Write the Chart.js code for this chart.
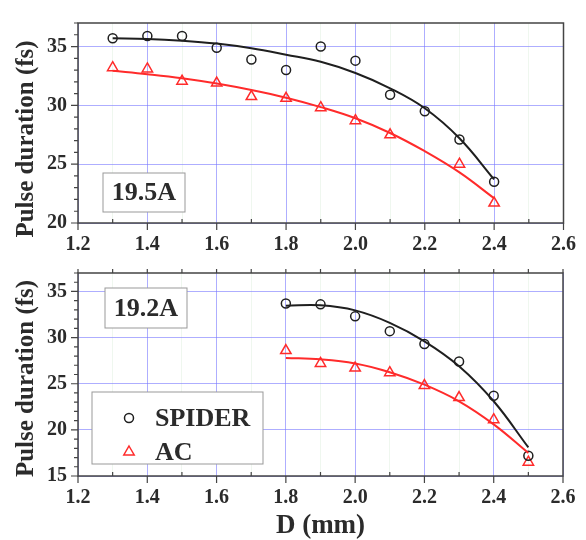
<!DOCTYPE html>
<html>
<head>
<meta charset="utf-8">
<script src="https://cdn.jsdelivr.net/npm/chart.js@4"></script>
<style>
  body { margin: 0; background: #fff; width: 586px; height: 540px; position: relative; overflow: hidden; }
  canvas { position: absolute; left: 0; }
</style>
</head>
<body>
<canvas id="topChart" width="586" height="260" style="top:0"></canvas>
<canvas id="bottomChart" width="586" height="290" style="top:250px"></canvas>
<script>
const fontFamily = "'Liberation Serif', 'Times New Roman', serif";
const textColor = '#2b2b2b';
const spiderColor = '#1f1f1f';
const acColor = '#ff2b2b';
const yTitle = 'Pulse duration (fs)';

// upper panel, 19.5A
const dTop = [1.3, 1.4, 1.5, 1.6, 1.7, 1.8, 1.9, 2.0, 2.1, 2.2, 2.3, 2.4];
const spiderTop = [35.7, 35.9, 35.9, 34.9, 33.9, 33.0, 35.0, 33.8, 30.9, 29.5, 27.1, 23.5];
const acTop = [33.2, 33.1, 32.05, 31.9, 30.75, 30.6, 29.8, 28.7, 27.5, null, 25.0, 21.7];
const fitSpiderTop = [35.7, 35.65, 35.5, 35.25, 34.85, 34.3, 33.7, 32.75, 31.45, 29.75, 27.2, 23.7];
const fitAcTop = [32.95, 32.65, 32.3, 31.85, 31.3, 30.65, 29.85, 28.9, 27.65, 26.1, 24.3, 22.1];

// lower panel, 19.2A
const dBottom = [1.8, 1.9, 2.0, 2.1, 2.2, 2.3, 2.4, 2.5];
const spiderBottom = [33.7, 33.6, 32.3, 30.7, 29.3, 27.4, 23.7, 17.2];
const acBottom = [28.6, 27.2, 26.7, 26.2, 24.8, 23.5, 21.1, 16.5];
const fitSpiderBottom = [33.45, 33.5, 32.95, 31.6, 29.6, 26.9, 23.1, 18.1];
const fitAcBottom = [27.8, 27.65, 27.2, 26.25, 24.9, 23.1, 20.6, 17.5];

const xRange = [1.2, 2.6];
const yRangeTop = [20, 37];
const yRangeBottom = [15, 37];

const pts = (xs, ys) => xs.map((x, i) => ({ x: x, y: ys[i] })).filter(p => p.y !== null);
const isMajorX = v => Math.round(v * 10) % 2 === 0;
const isMajorY = v => Math.round(v) % 5 === 0;

function makeDatasets(d, spider, ac, fitSpider, fitAc) {
    return [
        { label: 'SPIDER fit', data: pts(d, fitSpider), showLine: true, borderColor: spiderColor, borderWidth: 2, pointRadius: 0, tension: 0.4 },
        { label: 'AC fit', data: pts(d, fitAc), showLine: true, borderColor: acColor, borderWidth: 2, pointRadius: 0, tension: 0.4 },
        { label: 'SPIDER', data: pts(d, spider), pointStyle: 'circle', pointRadius: 4.5, borderColor: spiderColor, backgroundColor: 'transparent', pointBorderWidth: 1.5 },
        { label: 'AC', data: pts(d, ac), pointStyle: 'triangle', pointRadius: 6, borderColor: acColor, backgroundColor: 'transparent', pointBorderWidth: 1.5 }
    ];
}

// frame, tick marks, y title, label box and legend box
const decoPlugin = {
    id: 'deco',
    afterDraw(chart, args, opts) {
        const { ctx, chartArea: a, scales: { x, y } } = chart;
        ctx.save();
        ctx.strokeStyle = '#444';
        ctx.lineWidth = 1.5;
        ctx.strokeRect(a.left, a.top, a.right - a.left, a.bottom - a.top);

        ctx.lineWidth = 1.2;
        ctx.beginPath();
        x.ticks.forEach(t => {
            const px = x.getPixelForValue(t.value);
            if (isMajorX(t.value)) {
                ctx.moveTo(px, a.bottom); ctx.lineTo(px, a.bottom + 7);
            } else {
                ctx.moveTo(px, a.bottom); ctx.lineTo(px, a.bottom - 4);
            }
            if (opts.topTicks) {
                ctx.moveTo(px, a.top); ctx.lineTo(px, a.top - 4);
            }
        });
        y.ticks.forEach(t => {
            const py = y.getPixelForValue(t.value);
            const len = isMajorY(t.value) ? 7 : 4;
            ctx.moveTo(a.left, py); ctx.lineTo(a.left - len, py);
        });
        ctx.stroke();

        // rotated y title, a bit below the plot centre like the original
        ctx.save();
        ctx.translate(27, (a.top + a.bottom) / 2 + opts.titleShift);
        ctx.rotate(-Math.PI / 2);
        ctx.fillStyle = textColor;
        ctx.font = 'bold 25px ' + fontFamily;
        ctx.textAlign = 'center';
        ctx.textBaseline = 'middle';
        ctx.fillText(yTitle, 0, 0);
        ctx.restore();

        // current label box
        const b = opts.box;
        ctx.fillStyle = '#fff';
        ctx.fillRect(b.left, b.top, b.width, b.height);
        ctx.strokeStyle = '#999';
        ctx.lineWidth = 1;
        ctx.strokeRect(b.left, b.top, b.width, b.height);
        ctx.fillStyle = textColor;
        ctx.font = 'bold 26px ' + fontFamily;
        ctx.textAlign = 'center';
        ctx.textBaseline = 'middle';
        ctx.fillText(b.text, b.left + b.width / 2, b.top + b.height / 2 + 1);

        // legend
        const lg = opts.legend;
        if (lg) {
            ctx.fillStyle = '#fff';
            ctx.fillRect(lg.left, lg.top, lg.width, lg.height);
            ctx.strokeStyle = '#999';
            ctx.lineWidth = 1;
            ctx.strokeRect(lg.left, lg.top, lg.width, lg.height);
            const items = [chart.data.datasets[2], chart.data.datasets[3]];
            items.forEach((ds, i) => {
                const cy = lg.top + lg.rowY[i];
                ctx.strokeStyle = ds.borderColor;
                ctx.lineWidth = 1.5;
                ctx.beginPath();
                if (ds.pointStyle === 'circle') {
                    ctx.arc(lg.markerX, cy, ds.pointRadius, 0, Math.PI * 2);
                } else {
                    const r = ds.pointRadius;
                    ctx.moveTo(lg.markerX, cy - r);
                    ctx.lineTo(lg.markerX + r * 0.866, cy + r * 0.5);
                    ctx.lineTo(lg.markerX - r * 0.866, cy + r * 0.5);
                    ctx.closePath();
                }
                ctx.stroke();
                ctx.fillStyle = textColor;
                ctx.font = 'bold 26px ' + fontFamily;
                ctx.textAlign = 'left';
                ctx.textBaseline = 'middle';
                ctx.fillText(ds.label, lg.textX, cy + 1);
            });
        }
        ctx.restore();
    }
};

function makeOptions(yRange, xAxisHeight, showXTitle, padTop, padRight, deco) {
    return {
        responsive: false,
        animation: false,
        layout: { padding: { top: padTop, right: padRight, left: 0, bottom: 0 } },
        plugins: { legend: { display: false }, tooltip: { enabled: false }, deco: deco },
        scales: {
            x: {
                type: 'linear',
                min: xRange[0],
                max: xRange[1],
                afterFit: scale => { scale.height = xAxisHeight; },
                border: { display: false },
                grid: {
                    drawTicks: false,
                    lineWidth: 1,
                    color: c => isMajorX(c.tick.value) ? 'rgba(120,120,255,0.6)' : 'rgba(190,225,190,0.25)'
                },
                ticks: {
                    stepSize: 0.1,
                    autoSkip: false,
                    maxRotation: 0,
                    padding: 10,
                    color: textColor,
                    font: { family: fontFamily, size: 20, weight: 'bold' },
                    callback: v => isMajorX(v) ? v.toFixed(1) : ''
                },
                title: {
                    display: showXTitle,
                    text: 'D (mm)',
                    color: textColor,
                    padding: 0,
                    font: { family: fontFamily, size: 27, weight: 'bold', lineHeight: 1 }
                }
            },
            y: {
                min: yRange[0],
                max: yRange[1],
                afterFit: scale => { scale.width = 78; },
                border: { display: false },
                grid: {
                    drawTicks: false,
                    lineWidth: 1,
                    color: c => isMajorY(c.tick.value) ? 'rgba(120,120,255,0.6)' : 'rgba(0,0,0,0)'
                },
                ticks: {
                    stepSize: 1,
                    autoSkip: false,
                    padding: 11,
                    color: textColor,
                    font: { family: fontFamily, size: 20, weight: 'bold' },
                    callback: v => isMajorY(v) ? v : ''
                }
            }
        }
    };
}

new Chart(document.getElementById('topChart'), {
    type: 'scatter',
    data: { datasets: makeDatasets(dTop, spiderTop, acTop, fitSpiderTop, fitAcTop) },
    options: makeOptions(yRangeTop, 37, false, 9, 22, {
        topTicks: false,
        titleShift: 16,
        box: { text: '19.5A', left: 103, top: 173, width: 82, height: 39 },
        legend: null
    }),
    plugins: [decoPlugin]
});

new Chart(document.getElementById('bottomChart'), {
    type: 'scatter',
    data: { datasets: makeDatasets(dBottom, spiderBottom, acBottom, fitSpiderBottom, fitAcBottom) },
    options: makeOptions(yRangeBottom, 64, true, 13, 23, {
        topTicks: true,
        titleShift: 4,
        box: { text: '19.2A', left: 105, top: 38, width: 82, height: 40 },
        legend: { left: 92, top: 142, width: 171, height: 72, markerX: 129, rowY: [26, 60], textX: 155 }
    }),
    plugins: [decoPlugin]
});
</script>
</body>
</html>
